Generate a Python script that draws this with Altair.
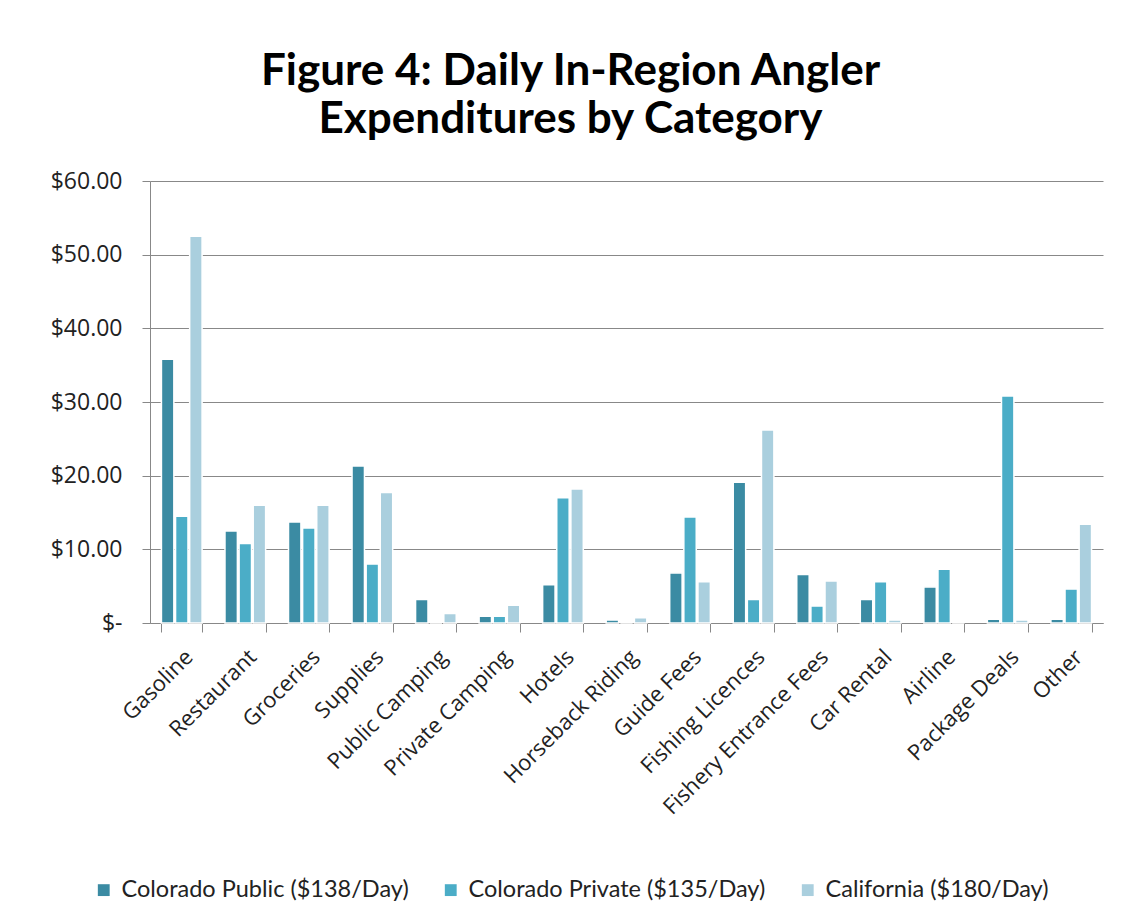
import altair as alt
import pandas as pd

categories = ["Gasoline", "Restaurant", "Groceries", "Supplies", "Public Camping",
              "Private Camping", "Hotels", "Horseback Riding", "Guide Fees",
              "Fishing Licences", "Fishery Entrance Fees", "Car Rental", "Airline",
              "Package Deals", "Other"]
series = ["Colorado Public ($138/Day)", "Colorado Private ($135/Day)", "California ($180/Day)"]
colorado_public = [35.8, 12.5, 13.7, 21.3, 3.2, 0.9, 5.2, 0.4, 6.8, 19.1, 6.6, 3.2, 4.9, 0.5, 0.5]
colorado_private = [14.5, 10.8, 12.9, 8.0, 0.0, 0.9, 17.0, 0.0, 14.4, 3.2, 2.3, 5.6, 7.3, 30.8, 4.6]
california = [52.5, 16.0, 16.0, 17.7, 1.3, 2.4, 18.2, 0.7, 5.6, 26.2, 5.7, 0.4, 0.0, 0.4, 13.4]
colors = ["#3B8BA3", "#4BADC7", "#AACFDE"]

rows = []
for i, c in enumerate(categories):
    for s, vals in zip(series, [colorado_public, colorado_private, california]):
        rows.append({"Category": c, "Series": s, "Value": vals[i]})
df = pd.DataFrame(rows)

chart = alt.Chart(df).mark_bar(stroke="white", strokeWidth=1.5).encode(
    x=alt.X("Category:N", sort=categories, title=None,
            scale=alt.Scale(paddingInner=0.36, paddingOuter=0.18),
            axis=alt.Axis(labelAngle=-45, labelFont="Open Sans", labelFontSize=22,
                          labelColor="#222222", labelPadding=14, tickBand="extent",
                          tickSize=9, tickColor="#888888", domainColor="#888888",
                          labelAlign="right", labelBaseline="top", labelLimit=0)),
    xOffset=alt.XOffset("Series:N", sort=series, scale=alt.Scale(paddingInner=0.12)),
    y=alt.Y("Value:Q", title=None, scale=alt.Scale(domain=[0, 60]),
            axis=alt.Axis(values=[0, 10, 20, 30, 40, 50, 60],
                          labelExpr="datum.value == 0 ? '$-' : '$' + format(datum.value, '.2f')",
                          labelFont="Open Sans", labelFontSize=23, labelColor="#222222",
                          labelPadding=20, tickSize=8, tickColor="#888888",
                          domainColor="#888888", gridColor="#888888", gridWidth=1)),
    color=alt.Color("Series:N", sort=series,
                    scale=alt.Scale(domain=series, range=colors),
                    legend=alt.Legend(title=None, orient="none", direction="horizontal",
                                      legendX=-58, legendY=697, symbolType="square",
                                      symbolSize=140, symbolStrokeWidth=0,
                                      labelFont="Lato", labelFontSize=23.5,
                                      labelColor="#222222", columnPadding=30,
                                      labelOffset=6, labelLimit=0)),
).properties(
    width=953, height=442,
    title=alt.TitleParams(["Figure 4: Daily In-Region Angler", "Expenditures by Category"],
                          font="Lato", fontSize=44, fontWeight="bold", color="#000000",
                          anchor="middle", dx=-56, offset=28, lineHeight=48),
    autosize=alt.AutoSizeParams(type="none"),
    padding={"left": 142, "top": 173, "right": 10, "bottom": 280},
).configure_view(stroke=None)

chart.save("out.html", embed_options={"renderer": "svg", "actions": False})
